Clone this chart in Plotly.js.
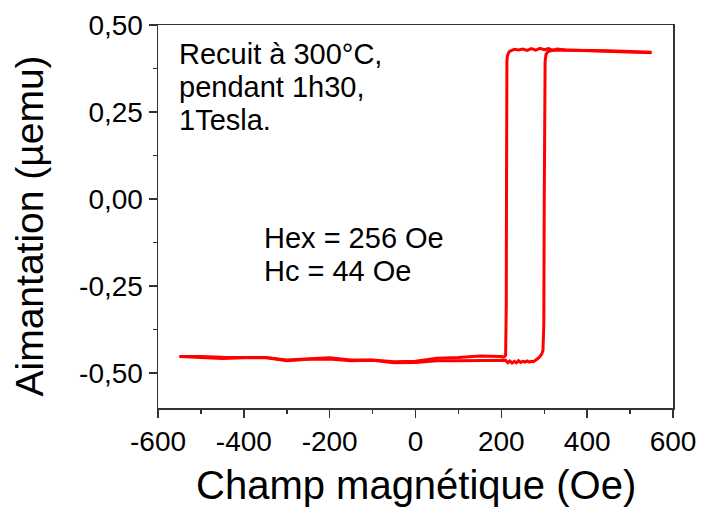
<!DOCTYPE html>
<html>
<head>
<meta charset="utf-8">
<script src="https://cdn.plot.ly/plotly-3.0.1.min.js"></script>
<style>html,body{margin:0;padding:0;background:#fff;}#chart{width:701px;height:509px;}</style>
</head>
<body>
<div id="chart"></div>
<script>
// Descending field sweep (+550 -> -550 Oe)
const fieldDown = [550, 500, 450, 400, 350, 330, 320, 310, 300, 290, 280, 270, 260, 250, 240, 230, 224, 219, 216, 214, 213, 212.5, 212, 211.5, 211, 210, 208, 205, 200, 180, 150, 100, 50, 0, -50, -100, -150, -200, -250, -300, -350, -400, -450, -500, -550];
const momentDown = [0.420, 0.422, 0.425, 0.426, 0.428, 0.431, 0.427, 0.432, 0.429, 0.433, 0.428, 0.432, 0.427, 0.431, 0.428, 0.430, 0.426, 0.424, 0.418, 0.410, 0.395, 0.300, 0.000, -0.300, -0.430, -0.448, -0.452, -0.454, -0.452, -0.452, -0.451, -0.455, -0.457, -0.466, -0.467, -0.462, -0.462, -0.456, -0.458, -0.462, -0.455, -0.455, -0.454, -0.452, -0.452];
// Ascending field sweep (-550 -> +550 Oe)
const fieldUp = [-550, -500, -450, -400, -350, -300, -250, -200, -150, -100, -50, 0, 50, 100, 150, 200, 210, 215, 220, 225, 230, 235, 240, 245, 250, 255, 260, 265, 270, 275, 280, 285, 290, 294, 297, 299, 300, 301, 302, 304, 308, 320, 350, 400, 450, 500, 550];
const momentUp = [-0.452, -0.455, -0.458, -0.456, -0.455, -0.464, -0.460, -0.459, -0.464, -0.463, -0.470, -0.469, -0.464, -0.464, -0.463, -0.462, -0.463, -0.470, -0.465, -0.471, -0.466, -0.470, -0.464, -0.469, -0.466, -0.468, -0.465, -0.468, -0.466, -0.467, -0.463, -0.458, -0.452, -0.445, -0.435, -0.360, 0.000, 0.300, 0.395, 0.415, 0.423, 0.428, 0.428, 0.427, 0.426, 0.424, 0.422];

const xTickVals = [-600, -400, -200, 0, 200, 400, 600];
const xTickText = ['-600', '-400', '-200', '0', '200', '400', '600'];
const xMinorVals = [-500, -300, -100, 100, 300, 500];
const yTickVals = [-0.5, -0.25, 0, 0.25, 0.5];
const yTickText = ['-0,50', '-0,25', '0,00', '0,25', '0,50'];
const yMinorVals = [-0.375, -0.125, 0.125, 0.375];

const xTitle = 'Champ magnétique (Oe)';
const yTitle = 'Aimantation (µemu)';
const note1Lines = ['Recuit à 300°C,', 'pendant 1h30,', '1Tesla.'];
const note2Lines = ['Hex = 256 Oe', 'Hc = 44 Oe'];

const FONT = 'Liberation Sans, Arial, sans-serif';
const lineStyle = {color: '#ff0000', width: 3};

const traces = [
  {x: fieldDown, y: momentDown, mode: 'lines', line: lineStyle, showlegend: false, hoverinfo: 'skip'},
  {x: fieldUp, y: momentUp, mode: 'lines', line: lineStyle, showlegend: false, hoverinfo: 'skip'}
];

const axisCommon = {
  showgrid: false, zeroline: false, showline: true, mirror: true,
  linecolor: '#333333', linewidth: 1.5,
  ticks: 'outside', ticklen: 8, tickwidth: 1.5, tickcolor: '#333333',
  tickfont: {family: FONT, size: 28, color: '#000'}
};

// plot area in px: left 158, right 673, top 25, bottom 408
const PH = 383, PW = 515, PB = 408, PL = 158;
const py = v => (PB - v) / PH;
const px = v => (v - PL) / PW;

const annotations = [];
const noteFont = {family: FONT, size: 29, color: '#000'};
note1Lines.forEach((t, i) => annotations.push({text: t, xref: 'paper', yref: 'paper', x: px(177), y: py(54 + 33 * i), xanchor: 'left', yanchor: 'middle', align: 'left', showarrow: false, font: noteFont}));
note2Lines.forEach((t, i) => annotations.push({text: t, xref: 'paper', yref: 'paper', x: px(262), y: py(238 + 33 * i), xanchor: 'left', yanchor: 'middle', align: 'left', showarrow: false, font: noteFont}));
annotations.push({text: xTitle, xref: 'paper', yref: 'paper', x: px(416), y: py(485), xanchor: 'center', yanchor: 'middle', showarrow: false, font: {family: FONT, size: 40, color: '#000'}});
annotations.push({text: yTitle, xref: 'paper', yref: 'paper', x: px(28.5), y: py(226), xanchor: 'center', yanchor: 'middle', textangle: -90, showarrow: false, font: {family: FONT, size: 39, color: '#000'}});

const layout = {
  width: 701, height: 509,
  margin: {l: 158, r: 28, t: 25, b: 101, pad: 0},
  paper_bgcolor: '#fff', plot_bgcolor: '#fff',
  font: {family: FONT, color: '#000'},
  xaxis: Object.assign({}, axisCommon, {
    range: [-600, 600], tickmode: 'array', tickvals: xTickVals, ticktext: xTickText,
    minor: {tickmode: 'array', tickvals: xMinorVals, ticks: 'outside', ticklen: 4, tickwidth: 1.5, tickcolor: '#333333', showgrid: false}
  }),
  yaxis: Object.assign({}, axisCommon, {
    range: [-0.6, 0.5], tickmode: 'array', tickvals: yTickVals, ticktext: yTickText,
    minor: {tickmode: 'array', tickvals: yMinorVals, ticks: 'outside', ticklen: 4, tickwidth: 1.5, tickcolor: '#333333', showgrid: false}
  }),
  annotations: annotations
};

Plotly.newPlot('chart', traces, layout, {staticPlot: true, displayModeBar: false});
</script>
</body>
</html>
